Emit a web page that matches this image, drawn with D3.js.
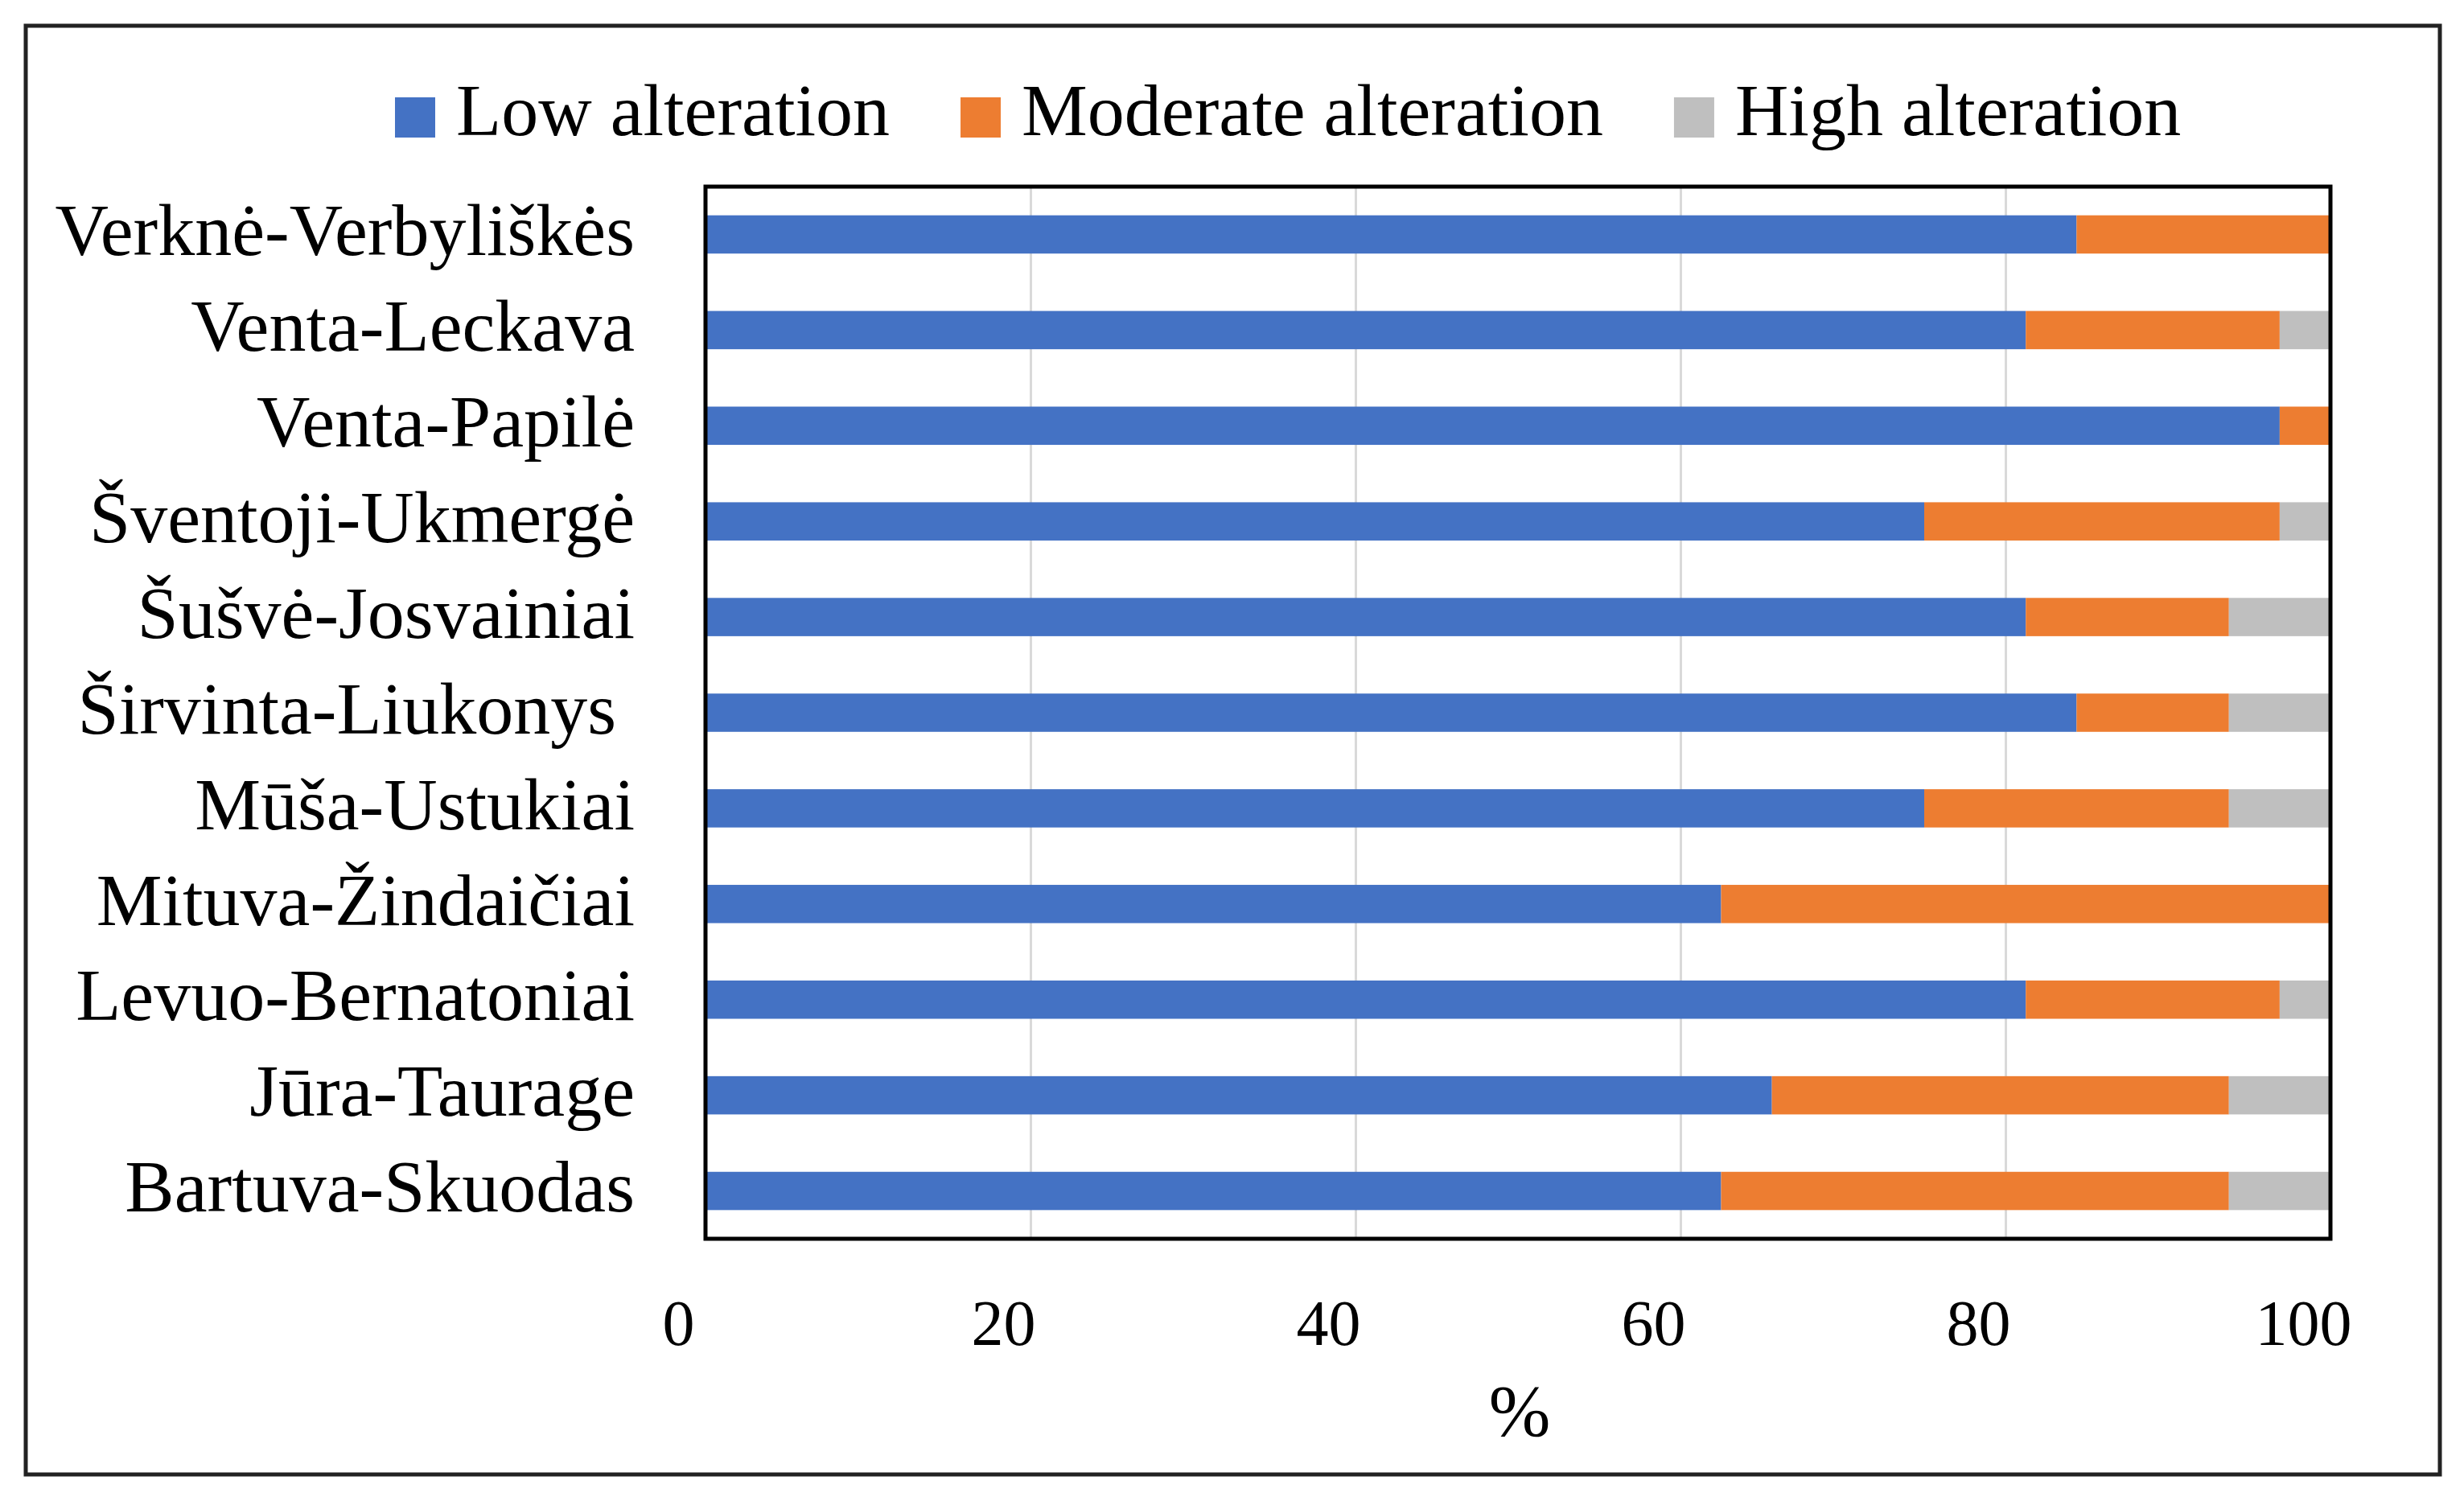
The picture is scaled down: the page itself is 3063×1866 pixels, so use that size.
<!DOCTYPE html>
<html>
<head>
<meta charset="utf-8">
<script src="https://cdn.jsdelivr.net/npm/d3@7"></script>
<style>
  html, body { margin: 0; padding: 0; background: #fff; }
  svg { display: block; }
  text { font-family: "Liberation Serif", "Times New Roman", serif; fill: #000; }
</style>
</head>
<body>
<svg id="chart" width="3063" height="1866"></svg>
<script>
// ---- data ----
const categories = [
  "Verknė-Verbyliškės",
  "Venta-Leckava",
  "Venta-Papilė",
  "Šventoji-Ukmergė",
  "Šušvė-Josvainiai",
  "Širvinta-Liukonys ",
  "Mūša-Ustukiai",
  "Mituva-Žindaičiai",
  "Levuo-Bernatoniai",
  "Jūra-Taurage",
  "Bartuva-Skuodas"
];
const seriesNames = ["Low alteration", "Moderate alteration", "High alteration"];
const lowValues      = [84.375, 81.25, 96.875, 75,     81.25, 84.375, 75,    62.5, 81.25,  65.625, 62.5];
const moderateValues = [15.625, 15.625, 3.125, 21.875, 12.5,  9.375,  18.75, 37.5, 15.625, 28.125, 31.25];
const highValues     = [0,      3.125,  0,     3.125,  6.25,  6.25,   6.25,  0,    3.125,  6.25,   6.25];
const xTicks = [0, 20, 40, 60, 80, 100];
const xAxisTitle = "%";
const colors = ["#4472C4", "#ED7D31", "#BFBFBF"];

// ---- layout ----
const svg = d3.select("#chart");
const plot = { left: 877, right: 2897, top: 232, bottom: 1540 };

// outer frame
svg.append("rect")
  .attr("x", 32).attr("y", 32).attr("width", 3001).attr("height", 1801)
  .attr("fill", "#fff").attr("stroke", "#222").attr("stroke-width", 5);

const rows = categories.map((c, i) => ({
  cat: c, low: lowValues[i], moderate: moderateValues[i], high: highValues[i]
}));
const keys = ["low", "moderate", "high"];
const stacked = d3.stack().keys(keys)(rows);

const x = d3.scaleLinear().domain([0, 100]).range([plot.left, plot.right]);
const y = d3.scaleBand().domain(categories).range([plot.top, plot.bottom]).paddingInner(0.6).paddingOuter(0.3);

// gridlines
svg.append("g")
  .attr("transform", `translate(0,${plot.bottom})`)
  .call(d3.axisBottom(x).tickValues(xTicks.slice(1, -1)).tickSize(-(plot.bottom - plot.top)).tickFormat(""))
  .call(g => g.select(".domain").remove())
  .call(g => g.selectAll("line").attr("stroke", "#D9D9D9").attr("stroke-width", 3));

// bars
svg.append("g").selectAll("g")
  .data(stacked)
  .join("g")
  .attr("fill", (d, i) => colors[i])
  .selectAll("rect")
  .data(d => d.map(v => Object.assign(v, { cat: v.data.cat })))
  .join("rect")
  .attr("x", d => x(d[0]))
  .attr("width", d => x(d[1]) - x(d[0]))
  .attr("y", d => y(d.cat))
  .attr("height", y.bandwidth());

// plot border
svg.append("rect")
  .attr("x", plot.left).attr("y", plot.top)
  .attr("width", plot.right - plot.left).attr("height", plot.bottom - plot.top)
  .attr("fill", "none").attr("stroke", "#000").attr("stroke-width", 5);

// x axis labels
svg.append("g")
  .attr("transform", `translate(0,${plot.bottom})`)
  .call(d3.axisBottom(x).tickValues(xTicks).tickSize(0).tickFormat(d3.format("d")))
  .call(g => g.select(".domain").remove())
  .call(g => g.selectAll("text")
    .attr("y", 132).attr("dy", 0).attr("dx", -34)
    .attr("font-size", 80)
    .style("font-family", '"Liberation Serif", serif')
    .attr("fill", "#000"));

// x axis title
svg.append("text")
  .attr("x", (plot.left + plot.right) / 2 + 2)
  .attr("y", 1785)
  .attr("text-anchor", "middle")
  .attr("font-size", 92)
  .text(xAxisTitle);

// y axis labels
svg.append("g")
  .attr("transform", `translate(${plot.left},0)`)
  .call(d3.axisLeft(y).tickSize(0).tickPadding(88))
  .call(g => g.select(".domain").remove())
  .call(g => g.selectAll("text")
    .attr("dy", "0.28em")
    .attr("font-size", 92)
    .style("font-family", '"Liberation Serif", serif')
    .style("white-space", "pre")
    .attr("fill", "#000"));

// legend
const legend = svg.append("g");
let lx = 491;
seriesNames.forEach((name, i) => {
  legend.append("rect")
    .attr("x", lx).attr("y", 121).attr("width", 50).attr("height", 50)
    .attr("fill", colors[i]);
  const t = legend.append("text")
    .attr("x", lx + 76).attr("y", 168)
    .attr("font-size", 92)
    .text(name);
  lx = lx + 76 + t.node().getComputedTextLength() + 88;
});
</script>
</body>
</html>
